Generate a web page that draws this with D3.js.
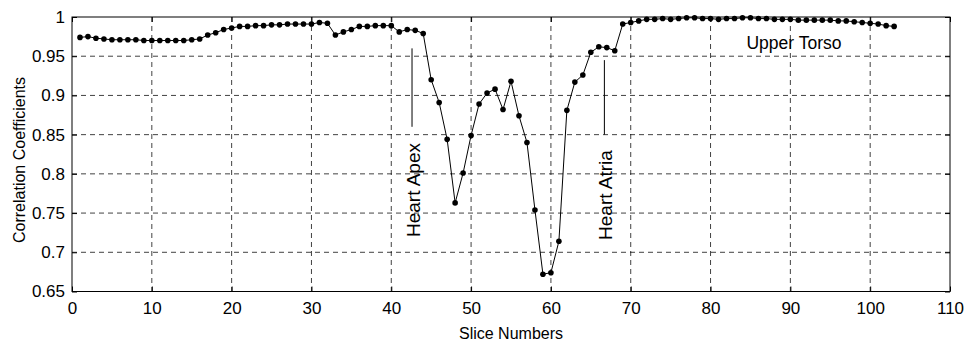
<!DOCTYPE html>
<html>
<head>
<meta charset="utf-8">
<script src="https://cdn.jsdelivr.net/npm/d3@7"></script>
<style>
body { margin: 0; background: #fff; }
text { font-family: "Liberation Sans", Arial, sans-serif; fill: #000; }
.grid line { stroke: #111; stroke-width: 0.8; stroke-dasharray: 5,4; }
</style>
</head>
<body>
<svg width="969" height="343"></svg>
<script>
var svg = d3.select("svg"),
    width = +svg.attr("width"),
    height = +svg.attr("height");

// slice numbers 1..103 and the correlation
var slices = d3.range(1, 104);
var correlation = [
  0.974, 0.975, 0.973, 0.972, 0.971, 0.971, 0.971, 0.971, 0.970, 0.970,
  0.970, 0.970, 0.970, 0.970, 0.971, 0.972, 0.977, 0.980, 0.984, 0.986,
  0.988, 0.988, 0.989, 0.989, 0.990, 0.990, 0.991, 0.991, 0.991, 0.991,
  0.993, 0.992, 0.977, 0.981, 0.984, 0.988, 0.988, 0.989, 0.989, 0.989,
  0.981, 0.984, 0.983, 0.979, 0.920, 0.891, 0.844, 0.763, 0.801, 0.849,
  0.889, 0.903, 0.908, 0.882, 0.918, 0.874, 0.840, 0.754, 0.672, 0.674,
  0.714, 0.881, 0.917, 0.926, 0.955, 0.962, 0.961, 0.957, 0.991, 0.993,
  0.995, 0.997, 0.997, 0.998, 0.997, 0.998, 0.999, 0.999, 0.998, 0.998,
  0.997, 0.998, 0.998, 0.999, 0.999, 0.998, 0.998, 0.997, 0.997, 0.997,
  0.996, 0.996, 0.996, 0.996, 0.996, 0.995, 0.995, 0.994, 0.993, 0.992,
  0.991, 0.989, 0.988
];

var xTicks = [0, 10, 20, 30, 40, 50, 60, 70, 80, 90, 100, 110];
var yTicks = [0.65, 0.7, 0.75, 0.8, 0.85, 0.9, 0.95, 1];

// annotations: label, x slice, marker line y range, text start
var notes = [
  {label: "Heart Apex", x: 42.6, y0: 0.960, y1: 0.860, ty: 0.7195},
  {label: "Heart Atria", x: 66.7, y0: 0.945, y1: 0.850, ty: 0.7157}
];

var pLeft = 72, pRight = 950, pTop = 17, pBottom = 291.5;

var x = d3.scaleLinear().domain([0, 110]).range([pLeft, pRight]);
var y = d3.scaleLinear().domain([0.65, 1]).range([pBottom, pTop]);

var data = slices.map(function(s, i) { return [s, correlation[i]]; });

// grid
var grid = svg.append("g").attr("class", "grid");
grid.selectAll(".vx")
  .data(xTicks.slice(1, -1))
  .enter().append("line")
  .attr("x1", function(d) { return x(d); })
  .attr("x2", function(d) { return x(d); })
  .attr("y1", pTop).attr("y2", pBottom);
grid.selectAll(".hy")
  .data(yTicks.slice(1, -1))
  .enter().append("line")
  .attr("x1", pLeft).attr("x2", pRight)
  .attr("y1", function(d) { return y(d); })
  .attr("y2", function(d) { return y(d); });

// axes (ticks pointing inward, box all round)
svg.append("g")
  .attr("transform", "translate(0," + pBottom + ")")
  .call(d3.axisBottom(x).tickValues(xTicks).tickSize(-5).tickPadding(10).tickFormat(d3.format("d")))
  .call(function(g) { g.select(".domain").remove(); });
svg.append("g")
  .attr("transform", "translate(0," + pTop + ")")
  .call(d3.axisTop(x).tickValues(xTicks).tickSize(-5).tickFormat(""))
  .call(function(g) { g.select(".domain").remove(); });
svg.append("g")
  .attr("transform", "translate(" + pLeft + ",0)")
  .call(d3.axisLeft(y).tickValues(yTicks).tickSize(-5).tickPadding(7).tickFormat(d3.format("")))
  .call(function(g) { g.select(".domain").remove(); });
svg.append("g")
  .attr("transform", "translate(" + pRight + ",0)")
  .call(d3.axisRight(y).tickValues(yTicks).tickSize(-5).tickFormat(""))
  .call(function(g) { g.select(".domain").remove(); });

svg.selectAll(".tick text").style("font-size", "17px").style("font-family", "Liberation Sans, Arial, sans-serif");
svg.selectAll(".tick line").attr("stroke", "#000");

svg.append("rect")
  .attr("x", pLeft).attr("y", pTop)
  .attr("width", pRight - pLeft).attr("height", pBottom - pTop)
  .attr("fill", "none").attr("stroke", "#000").attr("stroke-width", 1);

// series
var line = d3.line()
  .x(function(d) { return x(d[0]); })
  .y(function(d) { return y(d[1]); });

svg.append("path")
  .datum(data)
  .attr("d", line)
  .attr("fill", "none")
  .attr("stroke", "#000")
  .attr("stroke-width", 1);

svg.selectAll(".dot")
  .data(data)
  .enter().append("circle")
  .attr("cx", function(d) { return x(d[0]); })
  .attr("cy", function(d) { return y(d[1]); })
  .attr("r", 2.8)
  .attr("fill", "#000");

// annotations
notes.forEach(function(n) {
  svg.append("line")
    .attr("x1", x(n.x)).attr("x2", x(n.x))
    .attr("y1", y(n.y0)).attr("y2", y(n.y1))
    .attr("stroke", "#000").attr("stroke-width", 1);
  svg.append("text")
    .attr("transform", "translate(" + (x(n.x) + 8) + "," + y(n.ty) + ") rotate(-90)")
    .style("font-size", "19px")
    .text(n.label);
});

svg.append("text")
  .attr("x", x(84.5)).attr("y", y(0.959))
  .style("font-size", "17.5px")
  .text("Upper Torso");

// axis titles
svg.append("text")
  .attr("x", (pLeft + pRight) / 2)
  .attr("y", 339)
  .attr("text-anchor", "middle")
  .style("font-size", "16px")
  .text("Slice Numbers");

svg.append("text")
  .attr("transform", "translate(25,160) rotate(-90)")
  .attr("text-anchor", "middle")
  .style("font-size", "16px")
  .text("Correlation Coefficients");
</script>
</body>
</html>
